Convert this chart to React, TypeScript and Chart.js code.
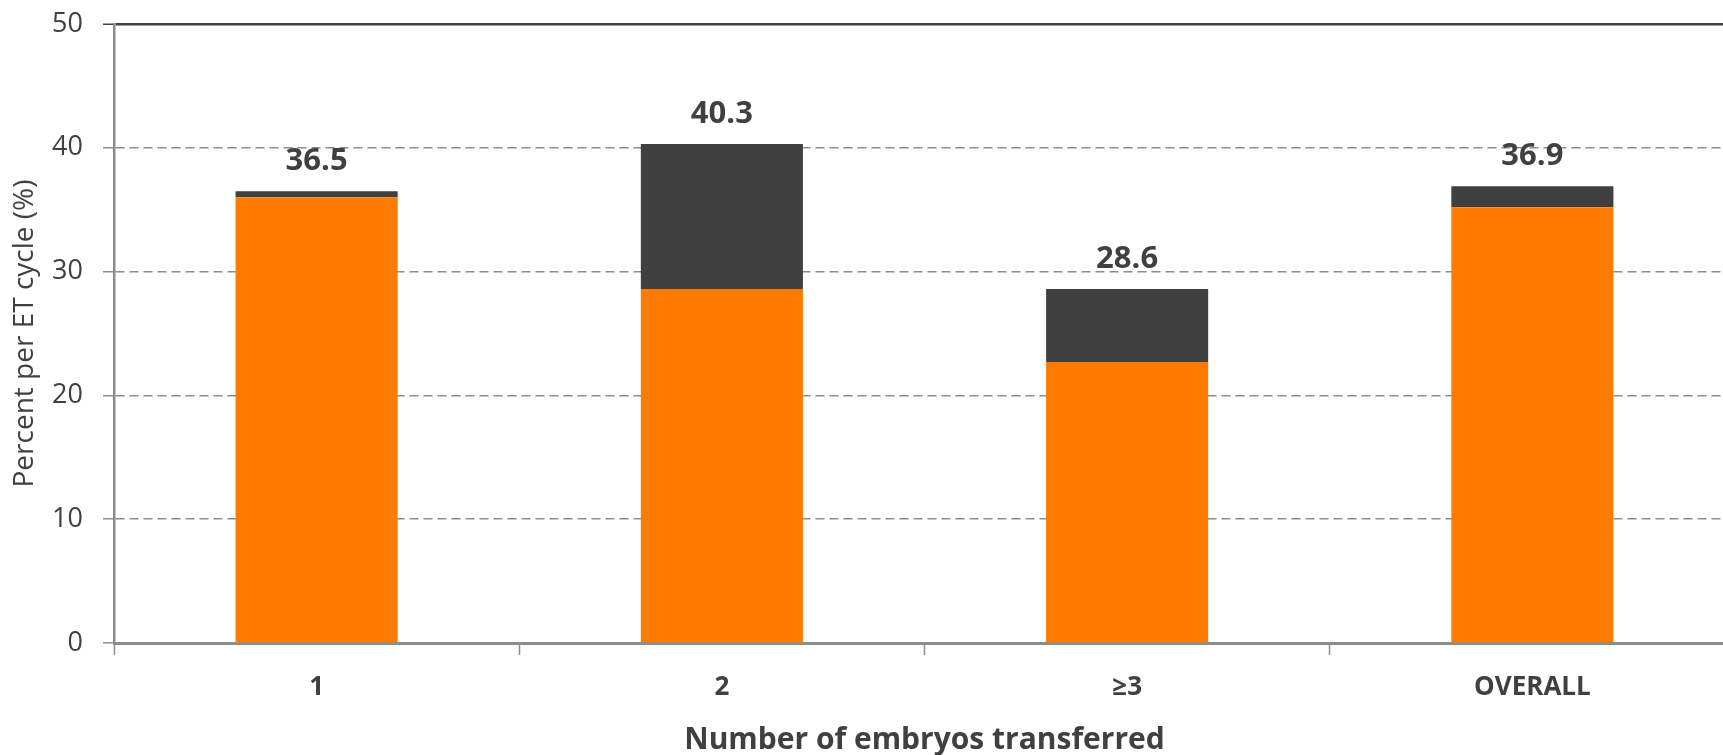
import React, { useEffect, useRef } from "react";
import { Chart, registerables } from "chart.js";

Chart.register(...registerables);

const categories = ["1", "2", "≥3", "OVERALL"];
const singletonValues = [36.0, 28.6, 22.7, 35.2];
const multipleValues = [0.5, 11.7, 5.9, 1.7];
const totalLabels = ["36.5", "40.3", "28.6", "36.9"];
const yTicks = [0, 10, 20, 30, 40, 50];

const TEXT = "#404040";
const GRID = "#8c8c8c";
const FONT = "'Open Sans', 'Noto Sans', sans-serif";

const totalLabelPlugin = {
  id: "totalLabels",
  afterDatasetsDraw(chart: any) {
    const ctx = chart.ctx;
    const last = chart.getDatasetMeta(chart.data.datasets.length - 1);
    ctx.save();
    ctx.font = `bold 31px ${FONT}`;
    ctx.fillStyle = TEXT;
    ctx.textAlign = "center";
    ctx.textBaseline = "alphabetic";
    last.data.forEach((bar: any, i: number) => {
      ctx.fillText(totalLabels[i], bar.x, bar.y - 21);
    });
    ctx.restore();
  },
};

export default function App() {
  const ref = useRef<HTMLCanvasElement>(null);

  useEffect(() => {
    if (!ref.current) return;
    const chart = new Chart(ref.current, {
      type: "bar",
      data: {
        labels: categories,
        datasets: [
          {
            label: "Singleton",
            data: singletonValues,
            backgroundColor: "#FF7B00",
            borderWidth: 0,
            categoryPercentage: 0.4,
            barPercentage: 1,
          },
          {
            label: "Multiple",
            data: multipleValues,
            backgroundColor: "#404040",
            borderWidth: 0,
            categoryPercentage: 0.4,
            barPercentage: 1,
          },
        ],
      },
      options: {
        animation: false,
        responsive: false,
        maintainAspectRatio: false,
        devicePixelRatio: 1,
        layout: { padding: { top: 24, left: 0, right: 0, bottom: 0 } },
        plugins: {
          legend: { display: false },
          tooltip: { enabled: false },
          title: { display: false },
        },
        scales: {
          x: {
            stacked: true,
            afterFit: (s: any) => {
              s.height = 112;
              s.paddingLeft = 0;
              s.paddingRight = 0;
            },
            grid: {
              display: true,
              offset: true,
              drawOnChartArea: false,
              drawTicks: true,
              tickLength: 12,
              tickColor: GRID,
              tickWidth: 1.5,
            },
            border: { display: true, color: GRID, width: 3 },
            ticks: {
              color: TEXT,
              font: { family: FONT, size: 26, weight: "bold" },
              padding: 17,
            },
            title: {
              display: true,
              text: "Number of embryos transferred",
              color: TEXT,
              font: { family: FONT, size: 30, weight: "bold", lineHeight: 1 },
              padding: { top: 0, bottom: 0 },
            },
          },
          y: {
            stacked: true,
            min: 0,
            max: 50,
            afterFit: (s: any) => {
              s.width = 114;
              s.paddingTop = 0;
              s.paddingBottom = 0;
            },
            afterBuildTicks: (s: any) => {
              s.ticks = yTicks.map((v) => ({ value: v }));
            },
            grid: {
              color: (c: any) => {
                const v = c.tick ? c.tick.value : -1;
                if (v === 50) return TEXT;
                if (v === 0) return "rgba(0,0,0,0)";
                return GRID;
              },
              lineWidth: (c: any) => (c.tick && c.tick.value === 50 ? 2.5 : 1.5),
              tickColor: (c: any) => (c.tick && c.tick.value === 50 ? TEXT : GRID),
              tickLength: 11,
              tickWidth: 1.5,
              drawTicks: true,
            },
            border: {
              display: true,
              color: GRID,
              width: 2.5,
              dash: (c: any) => (c.tick && c.tick.value !== 50 ? [9, 5] : []),
            },
            ticks: {
              color: TEXT,
              font: { family: FONT, size: 27 },
              padding: 20,
            },
            title: {
              display: true,
              text: "Percent per ET cycle (%)",
              color: TEXT,
              font: { family: FONT, size: 28, lineHeight: 1.2 },
              padding: { top: 8, bottom: 0 },
            },
          },
        },
      },
      plugins: [totalLabelPlugin],
    } as any);
    return () => chart.destroy();
  }, []);

  return (
    <div
      style={{
        position: "fixed",
        left: 0,
        top: 0,
        width: "100vw",
        height: "100vh",
        overflow: "hidden",
        background: "#fff",
      }}
    >
      <canvas ref={ref} width={1735} height={755} style={{ display: "block", width: 1735, height: 755 }} />
    </div>
  );
}
